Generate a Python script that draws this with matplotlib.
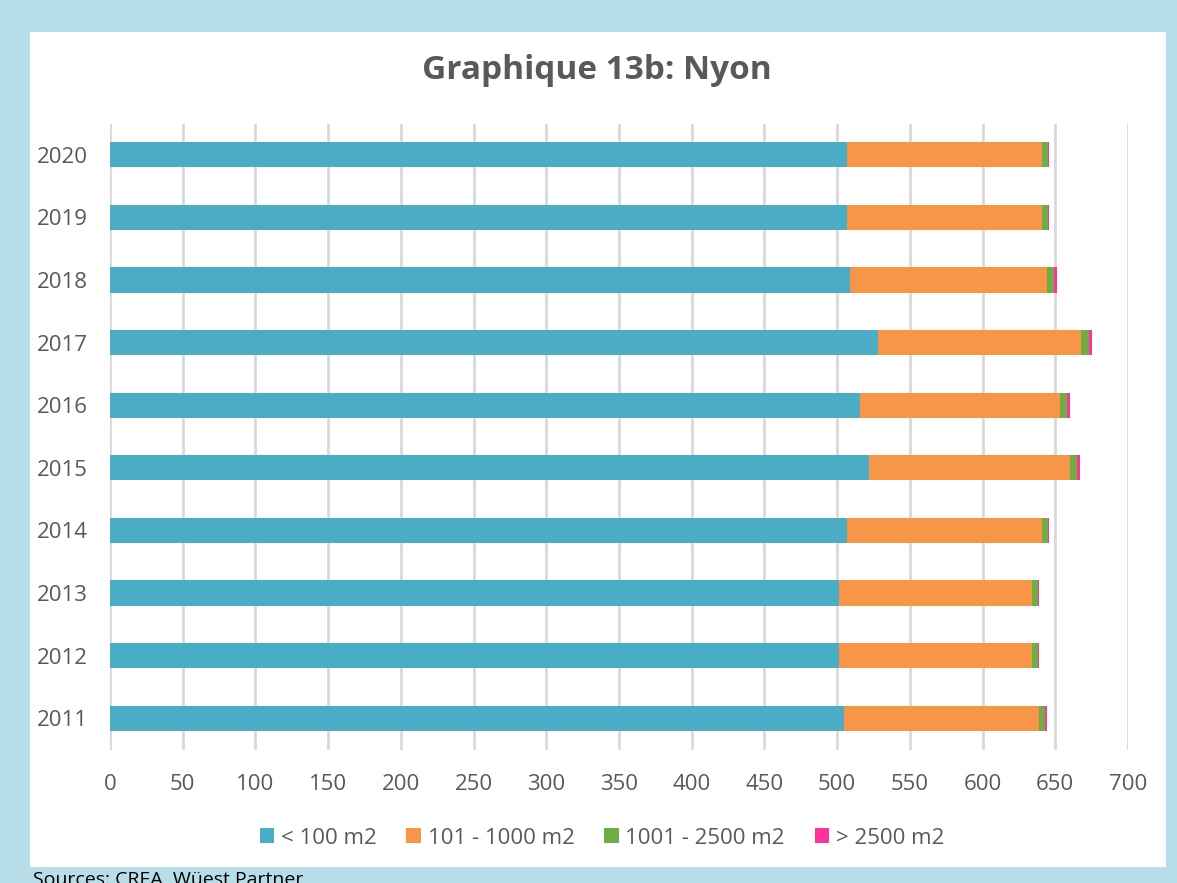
import matplotlib.pyplot as plt
import numpy as np
from matplotlib.patches import Rectangle

plt.rcParams['font.family'] = ['Open Sans', 'DejaVu Sans']

years = ['2011', '2012', '2013', '2014', '2015', '2016', '2017', '2018', '2019', '2020']
small = [505, 501, 501, 507, 522, 516, 528, 509, 507, 507]
medium = [134, 133, 133, 134, 138, 137, 140, 135, 134, 134]
large = [4, 4, 4, 4, 5, 5, 5, 5, 4, 4]
xlarge = [1, 1, 1, 1, 2, 2, 2, 2, 1, 1]

series_names = ['< 100 m2', '101 - 1000 m2', '1001 - 2500 m2', '> 2500 m2']
colors = ['#4BACC6', '#F79646', '#70AD47', '#FF3399']
x_ticks = list(range(0, 701, 50))

fig = plt.figure(figsize=(11.77, 8.83), dpi=100)
fig.patch.set_facecolor('#b7dee8')

# white panel inside the light blue frame
W, H = 1177, 883
panel = Rectangle((30 / W, 1 - 867 / H), (1166 - 30) / W, (867 - 32) / H,
                  transform=fig.transFigure, facecolor='white', edgecolor='none', zorder=-10)
fig.patches.append(panel)

ax = fig.add_axes([110 / W, 1 - 749.5 / H, (1128 - 110) / W, (749.5 - 123.5) / H])
ax.set_facecolor('none')

y = np.arange(len(years))
left = np.zeros(len(years))
handles = []
for vals, color, name in zip([small, medium, large, xlarge], colors, series_names):
    b = ax.barh(y, vals, left=left, height=0.4, color=color, label=name, zorder=3)
    handles.append(b)
    left += np.array(vals)

ax.set_xlim(0, 700)
ax.set_ylim(-0.5, len(years) - 0.5)
ax.set_xticks(x_ticks)
ax.set_yticks(y)
ax.set_yticklabels(years)
ax.tick_params(axis='both', length=0, labelsize=16, colors='#595959')
ax.tick_params(axis='x', pad=18)
ax.tick_params(axis='y', pad=16)
ax.grid(axis='x', color='#d9d9d9', linewidth=2, zorder=0)
for s in ax.spines.values():
    s.set_visible(False)

fig.text(597 / W, 1 - 79 / H, 'Graphique 13b: Nyon', ha='center', va='baseline',
         fontsize=24, fontweight='bold', color='#595959')

fig.legend(handles=handles, labels=series_names, loc='center', ncol=4,
           bbox_to_anchor=(602 / W, 1 - 838 / H), frameon=False, fontsize=16,
           labelcolor='#595959', handlelength=0.65, handleheight=0.65,
           handletextpad=0.3, columnspacing=1.35)

fig.text(33 / W, 1 - 885 / H, 'Sources: CREA, Wüest Partner', ha='left', va='baseline',
         fontsize=14, color='black')

fig.savefig('out.png', dpi=100, facecolor=fig.get_facecolor())
